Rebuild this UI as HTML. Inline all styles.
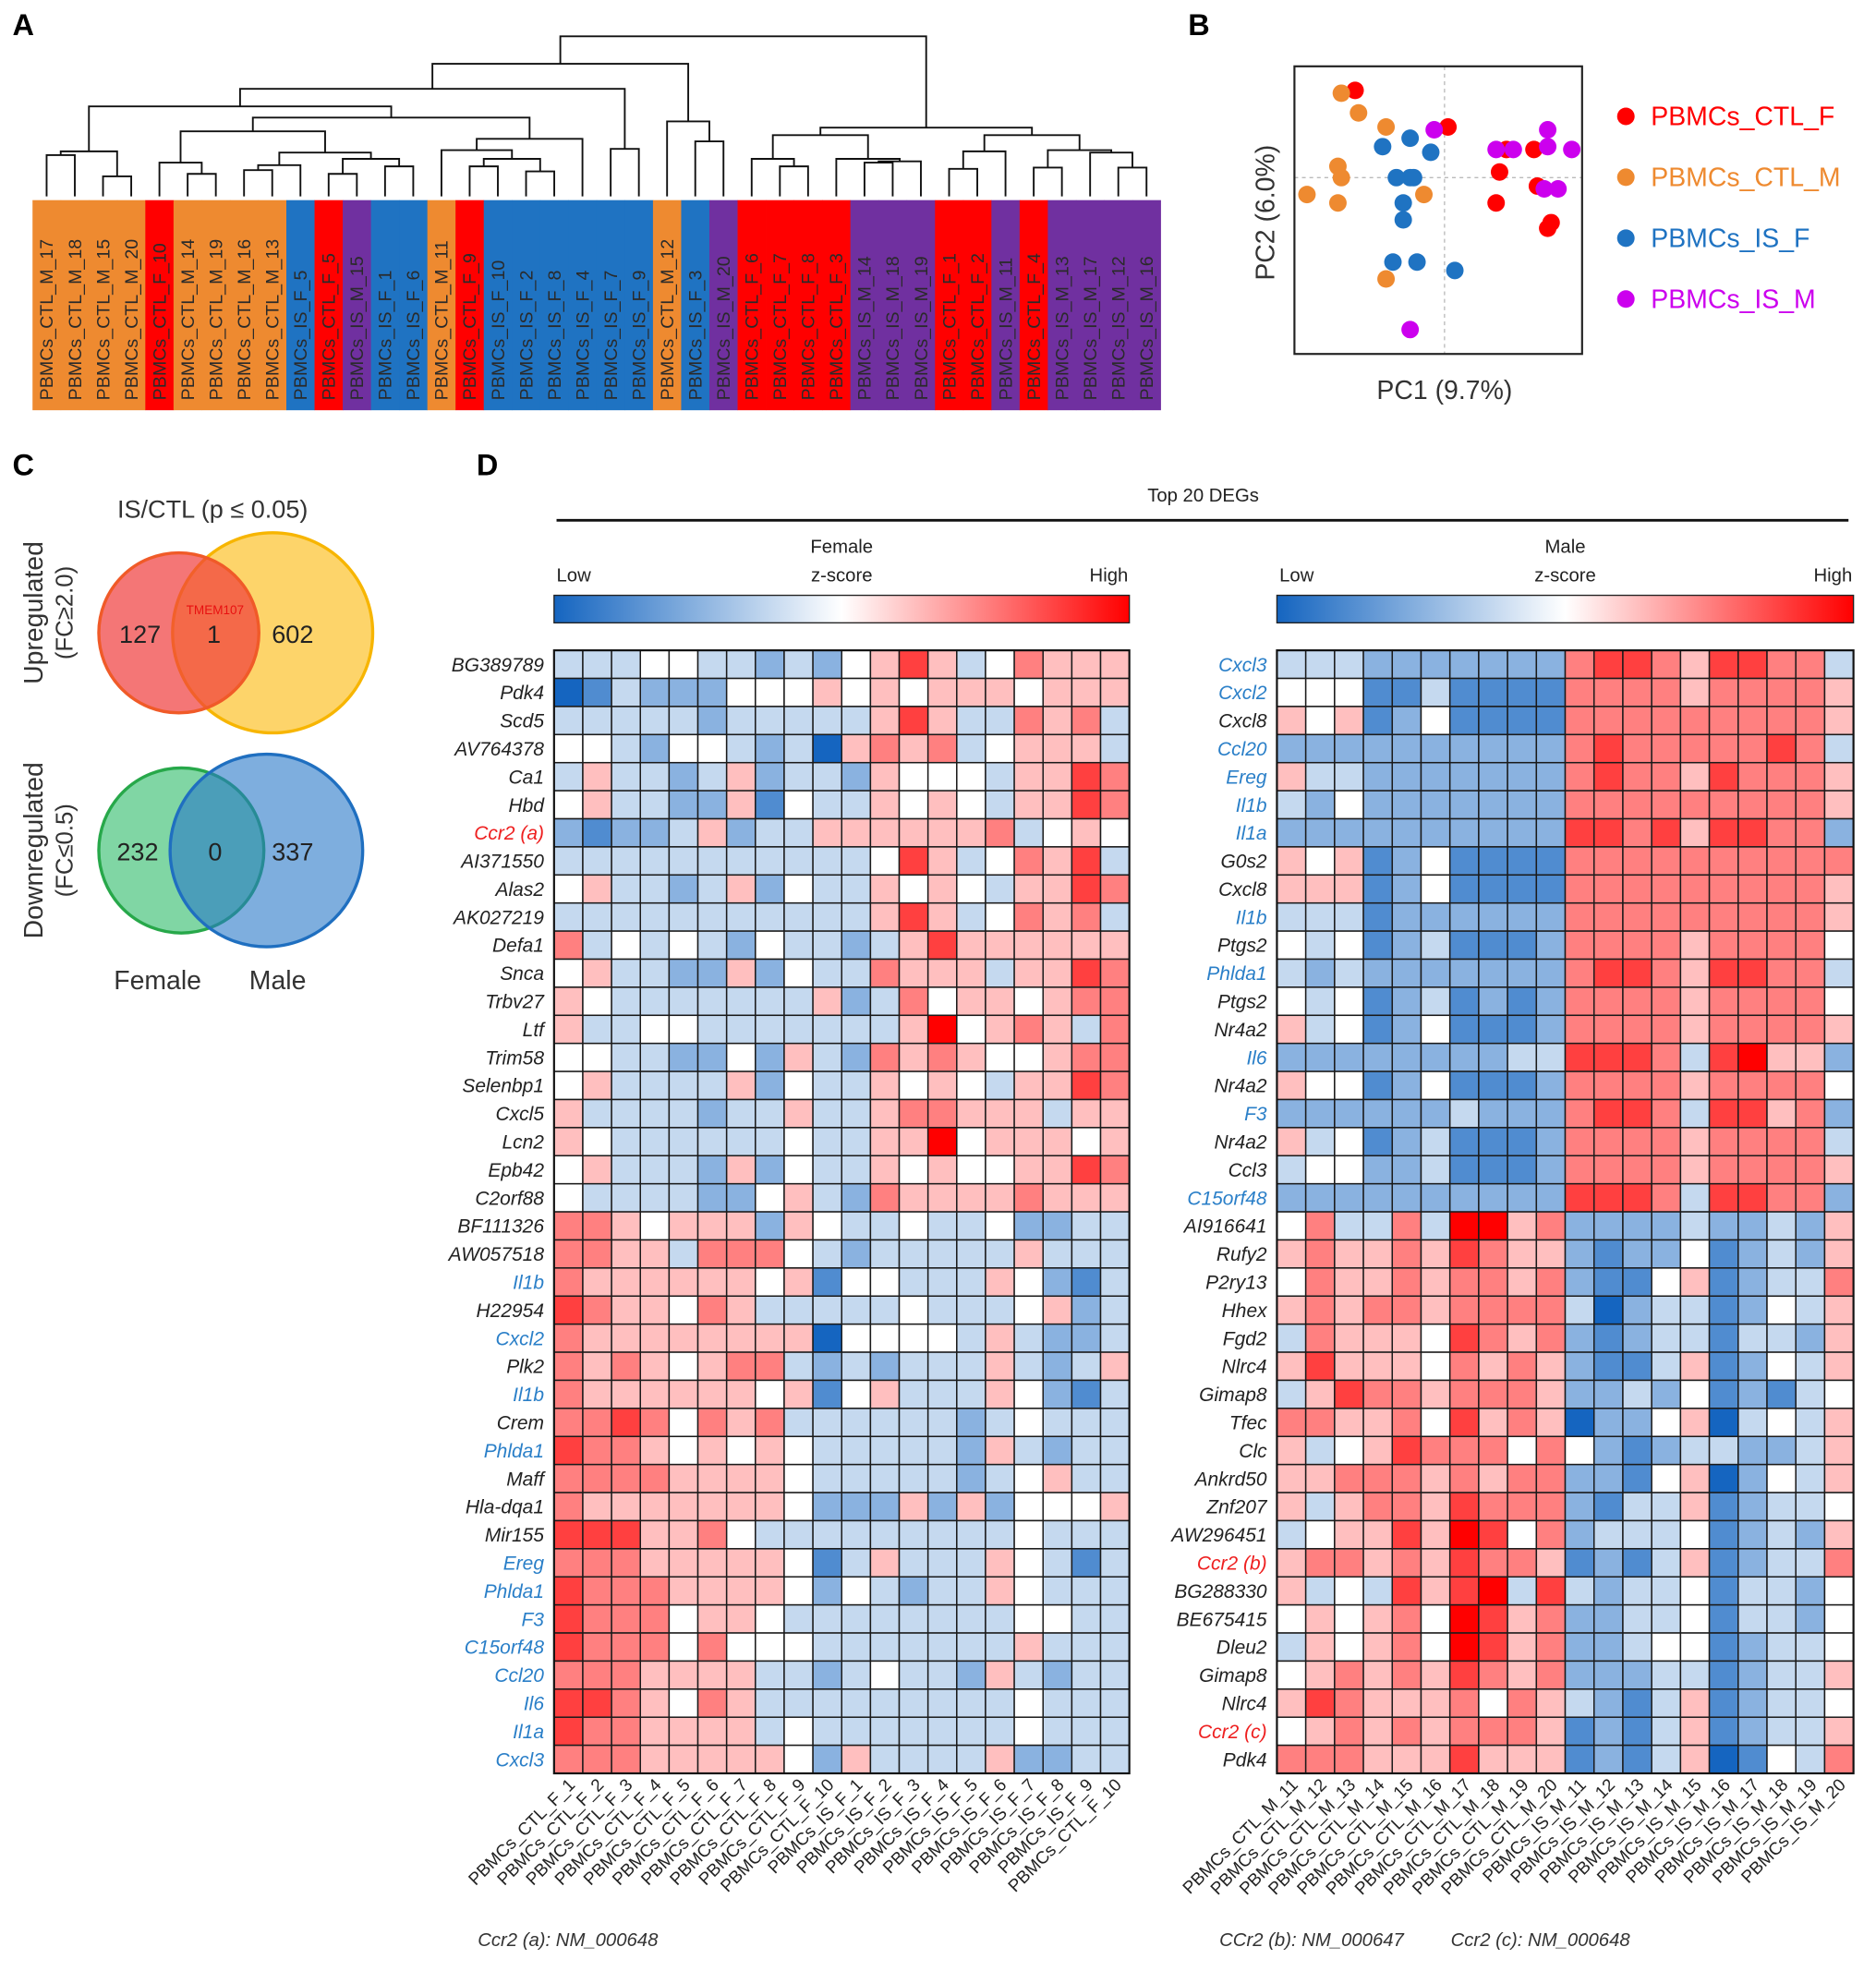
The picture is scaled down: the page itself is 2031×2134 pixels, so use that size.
<!DOCTYPE html>
<html><head><meta charset="utf-8"><style>
html,body{margin:0;padding:0;background:#fff;}
svg{display:block;font-family:"Liberation Sans",sans-serif;}
</style></head><body>
<svg id="fig" xmlns="http://www.w3.org/2000/svg" width="2031" height="2134" viewBox="0 0 1500 1576">
<rect width="1500" height="1576" fill="#fff"/>
<g id="gA"><text x="10" y="28" font-size="24" font-weight="bold">A</text></g>
<g id="gB"><text x="950" y="28" font-size="24" font-weight="bold">B</text></g>
<g id="gC">
<text x="10" y="380" font-size="24" font-weight="bold">C</text>
<text x="170" y="414" font-size="20" text-anchor="middle" fill="#333">IS/CTL (p ≤ 0.05)</text>
<text transform="translate(34,490) rotate(-90)" font-size="21" text-anchor="middle" fill="#333">Upregulated</text>
<text transform="translate(58,490) rotate(-90)" font-size="19" text-anchor="middle" fill="#333">(FC≥2.0)</text>
<circle cx="218" cy="506" r="80" fill="#fdd46a" stroke="#f7b500" stroke-width="2.5"/>
<circle cx="143" cy="506" r="64" fill="rgb(240,60,60)" fill-opacity="0.7" stroke="#f05a28" stroke-width="2.5"/>
<text x="112" y="514" font-size="20" text-anchor="middle" fill="#222">127</text>
<text x="171" y="514" font-size="20" text-anchor="middle" fill="#222">1</text>
<text x="234" y="514" font-size="20" text-anchor="middle" fill="#222">602</text>
<text x="172" y="491" font-size="10" text-anchor="middle" fill="#e81010">TMEM107</text>
<text transform="translate(34,680) rotate(-90)" font-size="21" text-anchor="middle" fill="#333">Downregulated</text>
<text transform="translate(58,680) rotate(-90)" font-size="19" text-anchor="middle" fill="#333">(FC≤0.5)</text>
<circle cx="145" cy="680" r="66" fill="#80d6a4" stroke="#27a84a" stroke-width="2.5"/>
<circle cx="213" cy="680" r="77" fill="rgb(40,120,200)" fill-opacity="0.6" stroke="#1f6fc0" stroke-width="2.5"/>
<text x="110" y="688" font-size="20" text-anchor="middle" fill="#222">232</text>
<text x="172" y="688" font-size="20" text-anchor="middle" fill="#222">0</text>
<text x="234" y="688" font-size="20" text-anchor="middle" fill="#222">337</text>
<text x="126" y="791" font-size="21" text-anchor="middle" fill="#333">Female</text>
<text x="222" y="791" font-size="21" text-anchor="middle" fill="#333">Male</text>
</g>
<g id="gD">
<text x="381" y="380" font-size="24" font-weight="bold">D</text>
<text x="962" y="401" font-size="15" text-anchor="middle" fill="#222">Top 20 DEGs</text>
<line x1="445" y1="416" x2="1478" y2="416" stroke="#111" stroke-width="2.2"/>
<defs><linearGradient id="zg"><stop offset="0" stop-color="#1565c0"/><stop offset="0.5" stop-color="#ffffff"/><stop offset="1" stop-color="#ff0000"/></linearGradient></defs>
</g>
<text x="382" y="1556" font-size="15" font-style="italic" fill="#333">Ccr2 (a): NM_000648</text>
<text x="975" y="1556" font-size="15" font-style="italic" fill="#333">CCr2 (b): NM_000647</text>
<text x="1160" y="1556" font-size="15" font-style="italic" fill="#333">Ccr2 (c): NM_000648</text>
</svg>
<script>
// ---------- Panel A data ----------
const sampleLabels = ["PBMCs_CTL_M_17","PBMCs_CTL_M_18","PBMCs_CTL_M_15","PBMCs_CTL_M_20","PBMCs_CTL_F_10","PBMCs_CTL_M_14","PBMCs_CTL_M_19","PBMCs_CTL_M_16","PBMCs_CTL_M_13","PBMCs_IS_F_5","PBMCs_CTL_F_5","PBMCs_IS_M_15","PBMCs_IS_F_1","PBMCs_IS_F_6","PBMCs_CTL_M_11","PBMCs_CTL_F_9","PBMCs_IS_F_10","PBMCs_IS_F_2","PBMCs_IS_F_8","PBMCs_IS_F_4","PBMCs_IS_F_7","PBMCs_IS_F_9","PBMCs_CTL_M_12","PBMCs_IS_F_3","PBMCs_IS_M_20","PBMCs_CTL_F_6","PBMCs_CTL_F_7","PBMCs_CTL_F_8","PBMCs_CTL_F_3","PBMCs_IS_M_14","PBMCs_IS_M_18","PBMCs_IS_M_19","PBMCs_CTL_F_1","PBMCs_CTL_F_2","PBMCs_IS_M_11","PBMCs_CTL_F_4","PBMCs_IS_M_13","PBMCs_IS_M_17","PBMCs_IS_M_12","PBMCs_IS_M_16"];
// dendrogram nodes: [left, right, mergeHeight(y)]
const dendroTree = [[[[[[0,1,124],[2,3,141],121],[[[4,[5,6,139],130],[[[7,8,136],9,132],[[10,11,139],[12,13,133],127],122],105],[[14,[[15,16,133],[17,18,137],127],120],19,111],94],85],[20,21,119],71],[22,[23,24,113],97],51],[[[25,[26,27,133],127],[28,[[29,30,130],31,129],127],108],[[[32,33,135],34,121],[[35,36,134],[37,[38,39,134],122],120],108],102],29];
// ---------- Panel B data ----------
const pcaGroups = ["PBMCs_CTL_F","PBMCs_CTL_M","PBMCs_IS_F","PBMCs_IS_M"];
const pc1_CTL_F = [-2.6,0.1,1.6,2.6,1.8,2.7,1.5,3.1,3.0];
const pc2_CTL_F = [3.1,1.8,0.2,1.0,1.0,-0.3,-0.9,-1.6,-1.8];
const pc1_CTL_M = [-3.0,-2.5,-1.7,-3.1,-3.0,-4.0,-3.1,-0.6,-1.7];
const pc2_CTL_M = [3.0,2.3,1.8,0.4,0.0,-0.6,-0.9,-0.6,-3.6];
const pc1_IS_F = [-1.0,-1.8,-0.4,-1.0,-1.4,-0.9,-1.2,-1.2,-1.5,-0.8,0.3];
const pc2_IS_F = [1.4,1.1,0.9,0.0,0.0,0.0,-0.9,-1.5,-3.0,-3.0,-3.3];
const pc1_IS_M = [-0.3,3.0,1.5,2.0,3.7,3.0,2.9,3.3,-1.0];
const pc2_IS_M = [1.7,1.7,1.0,1.0,1.0,1.1,-0.4,-0.4,-5.4];
// ---------- Panel D data (0 = deep blue, 4 = white, 8 = deep red) ----------
const femaleGenes = ["BG389789","Pdk4","Scd5","AV764378","Ca1","Hbd","!Ccr2 (a)","AI371550","Alas2","AK027219","Defa1","Snca","Trbv27","Ltf","Trim58","Selenbp1","Cxcl5","Lcn2","Epb42","C2orf88","BF111326","AW057518","*Il1b","H22954","*Cxcl2","Plk2","*Il1b","Crem","*Phlda1","Maff","Hla-dqa1","Mir155","*Ereg","*Phlda1","*F3","*C15orf48","*Ccl20","*Il6","*Il1a","*Cxcl3"];
const femaleSamples = ["PBMCs_CTL_F_1","PBMCs_CTL_F_2","PBMCs_CTL_F_3","PBMCs_CTL_F_4","PBMCs_CTL_F_5","PBMCs_CTL_F_6","PBMCs_CTL_F_7","PBMCs_CTL_F_8","PBMCs_CTL_F_9","PBMCs_CTL_F_10","PBMCs_IS_F_1","PBMCs_IS_F_2","PBMCs_IS_F_3","PBMCs_IS_F_4","PBMCs_IS_F_5","PBMCs_IS_F_6","PBMCs_IS_F_7","PBMCs_IS_F_8","PBMCs_IS_F_9","PBMCs_CTL_F_10"];
const femaleValues = [
"33344332324575346555","01322244454545554555","33333233333575336563","44324432305656345553",
"35332352332544435576","45332251433545435576","21223523355555563454","33333333333475346573",
"45332352433545435576","33333333333575346563","63434324332357555555","45332252433655535576",
"54333333352364554566","53344333333358456536","44332242532656544566","45333352433545435576",
"53333233533566555355","54333333433558455545","45333252433545445576","43333224532655556555",
"66545552543343342233","66553666432333335333","65555554514433354213","76554653333343334523",
"65555555504444353223","65654566323233353235","65555554514533354213","66764656333333234333",
"76654545433333253233","66665555433333234533","65555555422252524445","77755643333333334333",
"66655555413533354313","76665555424323354333","76664554333333334433","76664644433333335333",
"66655553323433253233","77654653333333334333","76655553433333334333","66655555425333352233"];
const maleGenes = ["*Cxcl3","*Cxcl2","Cxcl8","*Ccl20","*Ereg","*Il1b","*Il1a","G0s2","Cxcl8","*Il1b","Ptgs2","*Phlda1","Ptgs2","Nr4a2","*Il6","Nr4a2","*F3","Nr4a2","Ccl3","*C15orf48","AI916641","Rufy2","P2ry13","Hhex","Fgd2","Nlrc4","Gimap8","Tfec","Clc","Ankrd50","Znf207","AW296451","!Ccr2 (b)","BG288330","BE675415","Dleu2","Gimap8","Nlrc4","!Ccr2 (c)","Pdk4"];
const maleSamples = ["PBMCs_CTL_M_11","PBMCs_CTL_M_12","PBMCs_CTL_M_13","PBMCs_CTL_M_14","PBMCs_CTL_M_15","PBMCs_CTL_M_16","PBMCs_CTL_M_17","PBMCs_CTL_M_18","PBMCs_CTL_M_19","PBMCs_CTL_M_20","PBMCs_IS_M_11","PBMCs_IS_M_12","PBMCs_IS_M_13","PBMCs_IS_M_14","PBMCs_IS_M_15","PBMCs_IS_M_16","PBMCs_IS_M_17","PBMCs_IS_M_18","PBMCs_IS_M_19","PBMCs_IS_M_20"];
const maleValues = [
"33322222226776577663","44411311116666566665","54512411116666666665","22222222226766666763",
"53322222226766576665","32422222226666666665","22222222227767577662","54512411116666666666",
"55512411116666666665","33312222226666666665","43412311126666566664","32322222226776577663",
"43412312126666566664","53412411126666566665","22222222337776378552","54412411126666566664",
"22222232226776377562","53412311126666566663","34422311126666566665","22222222227776377662",
"46336388562222322325","56556576552122412325","46556566562114512336","56566566663023312435",
"36555476562123313325","57555465652113512435","35766566652232412134","66556475650224503435",
"53457666464212332235","55666565662214502435","53566576662133512334","34557587462333412325",
"56656576651213512336","53437578373233413324","45456487562233413324","35456487562234412334",
"45656576562223312335","57655564653213512334","45656566651213512335","66655575551213501436"];

const svg = document.getElementById('fig');
const NS = 'http://www.w3.org/2000/svg';
function mk(tag, attrs, parent){const e=document.createElementNS(NS,tag);for(const k in attrs)e.setAttribute(k,attrs[k]);(parent||svg).appendChild(e);return e;}

// ---------- Panel A ----------
const gA = document.getElementById('gA');
const bandX0=26, bandX1=928, bandY0=160, bandY1=328;
const bw=(bandX1-bandX0)/sampleLabels.length;
function groupColor(s){if(s.includes('CTL_F'))return '#ff0000';if(s.includes('CTL_M'))return '#ee8a30';if(s.includes('IS_F'))return '#1f73c2';return '#7030a0';}
function leafX(i){return bandX0+bw*(i+0.5);}
sampleLabels.forEach((s,i)=>{
  const r=mk('rect',{x:bandX0+bw*i,y:bandY0,width:bw+0.3,height:bandY1-bandY0,fill:groupColor(s)},gA);
  
  
  const t=mk('text',{transform:`translate(${leafX(i)+5},${bandY1-8}) rotate(-90)`,'font-size':14.5,fill:'#2a2a2a'},gA);
  t.textContent=s;
  
  
});
const leafBottom=157;
function drawNode(n){
  if(typeof n==='number') return {x:leafX(n),y:leafBottom};
  const a=drawNode(n[0]), b=drawNode(n[1]), h=n[2];
  const p=mk('path',{d:`M${a.x},${a.y}V${h}H${b.x}V${b.y}`,fill:'none',stroke:'#111','stroke-width':1.4},gA);
  
  
  return {x:(a.x+b.x)/2,y:h};
}
drawNode(dendroTree);

// ---------- Panel B ----------
const gB=document.getElementById('gB');
const bx0=1035,bx1=1265,by0=53,by1=283;
const cx0=1155, cy0=142, sx=27.5, sy=22.5;
function px(v){return cx0+v*sx;} function py(v){return cy0-v*sy;}
mk('line',{x1:cx0,y1:by0,x2:cx0,y2:by1,stroke:'#bbb','stroke-dasharray':'3,3'},gB);
mk('line',{x1:bx0,y1:cy0,x2:bx1,y2:cy0,stroke:'#bbb','stroke-dasharray':'3,3'},gB);
const box=mk('rect',{x:bx0,y:by0,width:bx1-bx0,height:by1-by0,fill:'none',stroke:'#222','stroke-width':1.6},gB);


const pcaCols=['#ff0000','#ee8a30','#1f73c2','#cc00ee'];
const pcaX=[pc1_CTL_F,pc1_CTL_M,pc1_IS_F,pc1_IS_M], pcaY=[pc2_CTL_F,pc2_CTL_M,pc2_IS_F,pc2_IS_M];
pcaX.forEach((xs,g)=>xs.forEach((v,i)=>{
  const c=mk('circle',{cx:px(v),cy:py(pcaY[g][i]),r:7,fill:pcaCols[g]},gB);
  
  
}));
const yl=mk('text',{transform:'translate(1019,170) rotate(-90)','font-size':21,'text-anchor':'middle',fill:'#333'},gB);yl.textContent='PC2 (6.0%)';


const xl=mk('text',{x:1155,y:319,'font-size':21,'text-anchor':'middle',fill:'#333'},gB);xl.textContent='PC1 (9.7%)';


pcaGroups.forEach((g,i)=>{
  const y=93+i*48.7;
  const d=mk('circle',{cx:1300,cy:y,r:7,fill:pcaCols[i]},gB);
  
  
  const t=mk('text',{x:1320,y:y+7,'font-size':21,fill:pcaCols[i]},gB);t.textContent=g;
  
  
});

// ---------- Panel D ----------
const gD=document.getElementById('gD');
function cellColor(v){const t=(v-4)/4;
  if(t<0){const k=-t;return `rgb(${Math.round(255+(21-255)*k)},${Math.round(255+(101-255)*k)},${Math.round(255+(192-255)*k)})`;}
  return `rgb(255,${Math.round(255*(1-t))},${Math.round(255*(1-t))})`;}
function heatmap(x0,x1,genes,samples,values,title){
  const y0=520,y1=1418;
  const cw=(x1-x0)/samples.length, ch=(y1-y0)/genes.length;
  const cx=(x0+x1)/2;
  const tt=mk('text',{x:cx,y:442,'font-size':15,'text-anchor':'middle',fill:'#222'},gD);tt.textContent=title;
  
  
  const lo=mk('text',{x:x0+2,y:465,'font-size':15,fill:'#222'},gD);lo.textContent='Low';
  
  
  const zs=mk('text',{x:cx,y:465,'font-size':15,'text-anchor':'middle',fill:'#222'},gD);zs.textContent='z-score';
  
  
  const hi=mk('text',{x:x1-1,y:465,'font-size':15,'text-anchor':'end',fill:'#222'},gD);hi.textContent='High';
  
  
  const cb=mk('rect',{x:x0,y:476,width:x1-x0,height:22,fill:'url(#zg)',stroke:'#222','stroke-width':1},gD);
  
  
  values.forEach((row,r)=>{
    for(let c=0;c<row.length;c++){
      const v=+row[c];
      const rc=mk('rect',{x:x0+c*cw,y:y0+r*ch,width:cw,height:ch,fill:cellColor(v),stroke:'#1a1a1a','stroke-width':1.1},gD);
      
      
    }
  });
  mk('rect',{x:x0,y:y0,width:x1-x0,height:y1-y0,fill:'none',stroke:'#111','stroke-width':1.6},gD);
  genes.forEach((g,r)=>{
    let col='#222',name=g;
    if(g[0]==='*'){col='#2a7fc8';name=g.slice(1);} else if(g[0]==='!'){col='#ee2020';name=g.slice(1);}
    const t=mk('text',{x:x0-8,y:y0+r*ch+ch/2+5.5,'font-size':15.5,'font-style':'italic','text-anchor':'end',fill:col},gD);
    t.textContent=name;
    
    
  });
  samples.forEach((s,c)=>{
    const t=mk('text',{transform:`translate(${x0+c*cw+cw/2+6},${y1+10}) rotate(-45)`,'font-size':14,'text-anchor':'end',fill:'#222'},gD);
    t.textContent=s;
    
    
  });
}
heatmap(443,903,femaleGenes,femaleSamples,femaleValues,'Female');
heatmap(1021,1482,maleGenes,maleSamples,maleValues,'Male');
</script>
</body></html>
